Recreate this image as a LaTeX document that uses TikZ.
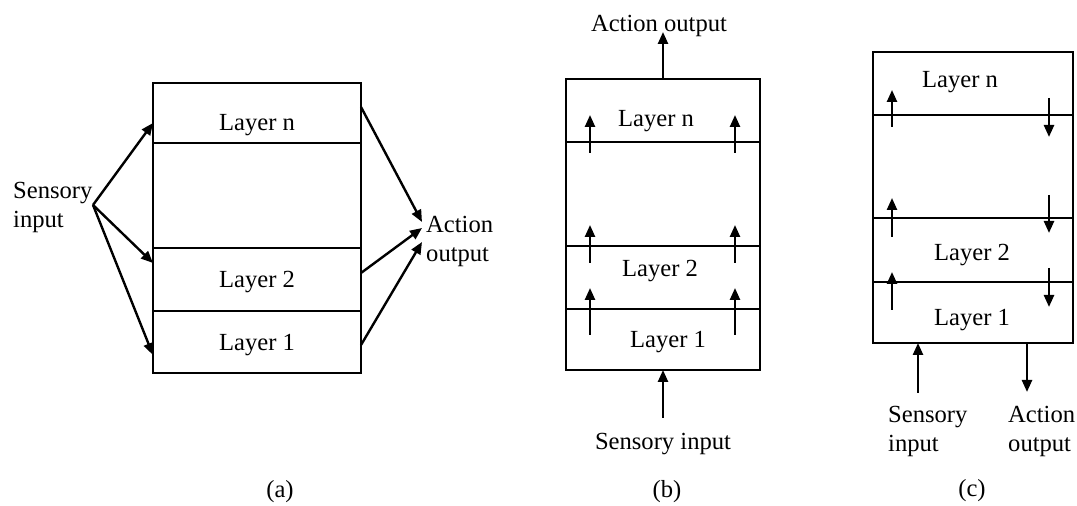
\documentclass[tikz,border=0pt]{standalone}
\usepackage{fontspec}
\setmainfont{Liberation Serif}
\usetikzlibrary{arrows.meta,positioning}

\begin{document}
\begin{tikzpicture}[x=0.5pt,y=-0.5pt,line width=1.2pt,
    >={Triangle[length=6pt,width=5pt]},
    lbl/.style={anchor=base,inner sep=0pt,font=\fontsize{12.3}{14.5}\selectfont},
    lbltwo/.style={lbl,anchor=base west,align=left}]
    \useasboundingbox (0,0) rectangle (1077,506);

    % (a) horizontal layering
    \draw (153,83) rectangle (361,373);
    \draw (153,143) -- (361,143);
    \draw (153,248) -- (361,248);
    \draw (153,311) -- (361,311);
    \node[lbl] (an) at (257,131) {Layer n};
    \node[lbl] (a2) at (257,288) {Layer 2};
    \node[lbl] (a1) at (257,351) {Layer 1};
    \node[lbltwo] (asens) at (12,228) {Sensory\\input};
    \node[lbltwo] (aact) at (425,262) {Action\\output};
    \coordinate (asrc) at (93,205);
    \coordinate (anin) at (153,123);
    \coordinate (a2in) at (153,263);
    \coordinate (a1in) at (153,355);
    \coordinate (anout) at (361,107);
    \coordinate (a2out) at (361,273);
    \coordinate (a1out) at (361,345);
    \coordinate (atipn) at (422,222);
    \coordinate (atip2) at (422,228);
    \coordinate (atip1) at (422,242);
    \draw[->] (asrc) -- (anin);
    \draw[->] (asrc) -- (a2in);
    \draw[->] (asrc) -- (a1in);
    \draw[->] (anout) -- (atipn);
    \draw[->] (a2out) -- (atip2);
    \draw[->] (a1out) -- (atip1);
    \node[lbl] (capa) at (280,498) {(a)};

    % (b) one pass vertical layering
    \draw (566,79) rectangle (760,370);
    \draw (566,142) -- (760,142);
    \draw (566,246) -- (760,246);
    \draw (566,309) -- (760,309);
    \node[lbl] (bn) at (656,127) {Layer n};
    \node[lbl] (b2) at (660,277) {Layer 2};
    \node[lbl] (b1) at (668,348) {Layer 1};
    \node[lbl] (bact) at (659,32) {Action output};
    \node[lbl] (bsens) at (663,450) {Sensory input};
    \coordinate (btop) at (663,79);
    \coordinate (bbot) at (663,370);
    \coordinate (bin) at (663,418);
    \draw[->] (btop) -- (btop |- bact.base);
    \draw[->] (bin) -- (bbot);
    \draw[->] (590,153) -- (590,115);
    \draw[->] (735,153) -- (735,115);
    \draw[->] (590,263) -- (590,225);
    \draw[->] (735,263) -- (735,225);
    \draw[->] (590,335) -- (590,288);
    \draw[->] (735,335) -- (735,288);
    \node[lbl] (capb) at (667,498) {(b)};

    % (c) two pass vertical layering
    \draw (873,52) rectangle (1073,343);
    \draw (873,115) -- (1073,115);
    \draw (873,218) -- (1073,218);
    \draw (873,282) -- (1073,282);
    \node[lbl] (cn) at (960,88) {Layer n};
    \node[lbl] (c2) at (972,261) {Layer 2};
    \node[lbl] (c1) at (972,326) {Layer 1};
    \node[lbltwo] (csens) at (887,452) {Sensory\\input};
    \node[lbltwo] (cact) at (1007,452) {Action\\output};
    \coordinate (cin) at (918,393);
    \coordinate (cinbox) at (918,343);
    \coordinate (coutbox) at (1027,343);
    \coordinate (cout) at (1027,392);
    \draw[->] (cin) -- (cinbox);
    \draw[->] (coutbox) -- (cout);
    \draw[->] (892,127) -- (892,90);
    \draw[->] (892,237) -- (892,198);
    \draw[->] (892,310) -- (892,272);
    \draw[->] (1049,98) -- (1049,137);
    \draw[->] (1049,195) -- (1049,233);
    \draw[->] (1049,268) -- (1049,307);
    \node[lbl] (capc) at (972,497) {(c)};
\end{tikzpicture}
\end{document}
